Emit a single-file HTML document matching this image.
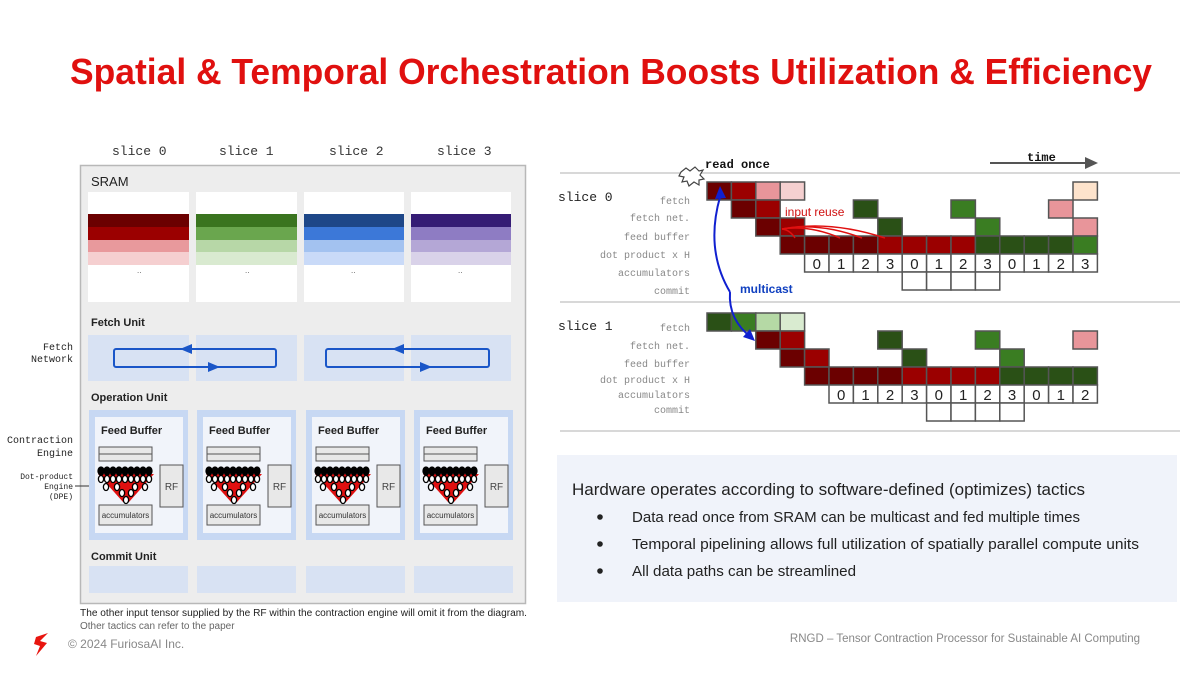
<!DOCTYPE html>
<html><head><meta charset="utf-8"><style>
html,body{margin:0;padding:0;background:#fff;}
svg{display:block;}
.m{font-family:"Liberation Mono",monospace;}
.s{font-family:"Liberation Sans",sans-serif;}
</style></head><body>
<svg width="1200" height="675" viewBox="0 0 1200 675" xmlns="http://www.w3.org/2000/svg">
<text x="70" y="84" class="s" font-size="36" font-weight="bold" fill="#e0100f" textLength="1082" lengthAdjust="spacingAndGlyphs">Spatial &amp; Temporal Orchestration Boosts Utilization &amp; Efficiency</text>

<!-- LEFT PANEL -->
<g class="m" font-size="13" fill="#333">
<text x="112" y="155">slice 0</text><text x="219" y="155">slice 1</text>
<text x="329" y="155">slice 2</text><text x="437" y="155">slice 3</text>
</g>
<rect x="80.5" y="165.5" width="445" height="438" fill="#ededed" stroke="#b8b8b8" stroke-width="1.5"/>
<text x="91" y="186" class="s" font-size="13" fill="#222">SRAM</text>
<g>
<rect x="88" y="192" width="101" height="110" fill="#fff"/>
<rect x="196" y="192" width="101" height="110" fill="#fff"/>
<rect x="304" y="192" width="100" height="110" fill="#fff"/>
<rect x="411" y="192" width="100" height="110" fill="#fff"/>
<rect x="88" y="214" width="101" height="13" fill="#6b0000"/><rect x="88" y="227" width="101" height="13" fill="#9b0000"/><rect x="88" y="240" width="101" height="12" fill="#e8999c"/><rect x="88" y="252" width="101" height="13" fill="#f5cfd0"/>
<rect x="196" y="214" width="101" height="13" fill="#3a741f"/><rect x="196" y="227" width="101" height="13" fill="#6aa64e"/><rect x="196" y="240" width="101" height="12" fill="#b7d7a7"/><rect x="196" y="252" width="101" height="13" fill="#d9ead0"/>
<rect x="304" y="214" width="100" height="13" fill="#1e4788"/><rect x="304" y="227" width="100" height="13" fill="#3c78d8"/><rect x="304" y="240" width="100" height="12" fill="#a3c2f0"/><rect x="304" y="252" width="100" height="13" fill="#c9daf8"/>
<rect x="411" y="214" width="100" height="13" fill="#351c75"/><rect x="411" y="227" width="100" height="13" fill="#8e7cc3"/><rect x="411" y="240" width="100" height="12" fill="#b4a7d6"/><rect x="411" y="252" width="100" height="13" fill="#d9d2e9"/>
<g class="s" font-size="8" fill="#555"><text x="137" y="273">..</text><text x="245" y="273">..</text><text x="351" y="273">..</text><text x="458" y="273">..</text></g>
</g>
<text x="91" y="326" class="s" font-size="11" font-weight="bold" fill="#222">Fetch Unit</text>
<rect x="88" y="335" width="101" height="46" fill="#d8e2f3"/><rect x="196" y="335" width="101" height="46" fill="#d8e2f3"/>
<rect x="304" y="335" width="100" height="46" fill="#d8e2f3"/><rect x="411" y="335" width="100" height="46" fill="#d8e2f3"/>
<g fill="none" stroke="#1a56c8" stroke-width="2">
<rect x="114" y="349" width="162" height="18" rx="2"/>
<rect x="326" y="349" width="163" height="18" rx="2"/>
</g>
<g fill="#1a56c8">
<polygon points="180,349 192,344 192,354"/><polygon points="220,367 208,362 208,372"/>
<polygon points="392,349 404,344 404,354"/><polygon points="432,367 420,362 420,372"/>
</g>
<g class="m" font-size="10" fill="#222" text-anchor="end">
<text x="73" y="350">Fetch</text><text x="73" y="362">Network</text>
<text x="73" y="443">Contraction</text><text x="73" y="456">Engine</text>
</g>
<g class="m" font-size="8" fill="#222" text-anchor="end">
<text x="73" y="479">Dot-product</text><text x="73" y="489">Engine</text><text x="73" y="499">(DPE)</text>
</g>
<line x1="75" y1="486" x2="102" y2="486" stroke="#333" stroke-width="1"/>
<text x="91" y="401" class="s" font-size="11" font-weight="bold" fill="#222">Operation Unit</text>

<defs>
<g id="op">
<rect x="0" y="0" width="99" height="130" fill="#c7d8f3"/>
<rect x="6" y="7" width="88" height="116" fill="#f1f4fa"/>
<text x="12" y="24" class="s" font-size="11" font-weight="bold" fill="#222">Feed Buffer</text>
<rect x="10" y="37" width="53" height="7" fill="#e8e8e8" stroke="#555"/>
<rect x="10" y="44" width="53" height="7" fill="#e8e8e8" stroke="#555"/>
<polygon points="9,64 65,64 40,92 34,92" fill="#e01010"/>
<g fill="#000" stroke="#000" stroke-width="1.3">
<ellipse cx="12" cy="61" rx="3" ry="4"/><ellipse cx="18" cy="61" rx="3" ry="4"/><ellipse cx="24" cy="61" rx="3" ry="4"/><ellipse cx="30" cy="61" rx="3" ry="4"/><ellipse cx="36" cy="61" rx="3" ry="4"/><ellipse cx="42" cy="61" rx="3" ry="4"/><ellipse cx="48" cy="61" rx="3" ry="4"/><ellipse cx="54" cy="61" rx="3" ry="4"/><ellipse cx="60" cy="61" rx="3" ry="4"/>
</g>
<g fill="#fff" stroke="#000" stroke-width="1.3">
<ellipse cx="12" cy="69" rx="2.6" ry="3.5"/><ellipse cx="18" cy="69" rx="2.6" ry="3.5"/><ellipse cx="24" cy="69" rx="2.6" ry="3.5"/><ellipse cx="30" cy="69" rx="2.6" ry="3.5"/><ellipse cx="36" cy="69" rx="2.6" ry="3.5"/><ellipse cx="42" cy="69" rx="2.6" ry="3.5"/><ellipse cx="48" cy="69" rx="2.6" ry="3.5"/><ellipse cx="54" cy="69" rx="2.6" ry="3.5"/><ellipse cx="60" cy="69" rx="2.6" ry="3.5"/>
<ellipse cx="17" cy="77" rx="2.6" ry="3.5"/><ellipse cx="28" cy="77" rx="2.6" ry="3.5"/><ellipse cx="46" cy="77" rx="2.6" ry="3.5"/><ellipse cx="56" cy="77" rx="2.6" ry="3.5"/>
<ellipse cx="33" cy="83" rx="2.6" ry="3.5"/><ellipse cx="42" cy="83" rx="2.6" ry="3.5"/>
<ellipse cx="37" cy="90" rx="2.6" ry="3.5"/>
</g>
<rect x="71" y="55" width="23" height="42" fill="#e8e8e8" stroke="#555"/>
<text x="82.5" y="80" class="s" font-size="10" fill="#444" text-anchor="middle">RF</text>
<rect x="10" y="95" width="53" height="20" fill="#e8e8e8" stroke="#555"/>
<text x="36.5" y="108" class="s" font-size="8" fill="#333" text-anchor="middle">accumulators</text>
</g>
</defs>
<use href="#op" x="89" y="410"/><use href="#op" x="197" y="410"/><use href="#op" x="306" y="410"/><use href="#op" x="414" y="410"/>

<text x="91" y="560" class="s" font-size="11" font-weight="bold" fill="#222">Commit Unit</text>
<rect x="89" y="566" width="99" height="27" fill="#d8e2f3"/><rect x="197" y="566" width="99" height="27" fill="#d8e2f3"/>
<rect x="306" y="566" width="99" height="27" fill="#d8e2f3"/><rect x="414" y="566" width="99" height="27" fill="#d8e2f3"/>
<text x="80" y="616" class="s" font-size="10" fill="#222" textLength="447" lengthAdjust="spacingAndGlyphs">The other input tensor supplied by the RF within the contraction engine will omit it from the diagram.</text>
<text x="80" y="629" class="s" font-size="10" fill="#666">Other tactics can refer to the paper</text>
<path d="M36,637 L48,633 L40,641 L47,643 L36,656 L40,646 L34,644 Z" fill="#e8150f"/>
<text x="68" y="648" class="s" font-size="12" fill="#888">© 2024 FuriosaAI Inc.</text>
<text x="1140" y="642" class="s" font-size="11.5" fill="#888" text-anchor="end">RNGD – Tensor Contraction Processor for Sustainable AI Computing</text>

<!-- RIGHT TIMELINE -->
<line x1="560" y1="173" x2="1180" y2="173" stroke="#ccc" stroke-width="1.5"/>
<line x1="560" y1="302" x2="1180" y2="302" stroke="#ccc" stroke-width="1.5"/>
<line x1="560" y1="431" x2="1180" y2="431" stroke="#ccc" stroke-width="1.5"/>
<text x="705" y="168" class="m" font-size="12" font-weight="bold" fill="#111">read once</text>
<text x="1027" y="161" class="m" font-size="12" font-weight="bold" fill="#111">time</text>
<line x1="990" y1="163" x2="1086" y2="163" stroke="#555" stroke-width="2"/>
<polygon points="1098,163 1085,157 1085,169" fill="#555"/>
<polygon points="681,172 686,168 690,171 695,167 699,171 703,170 700,175 704,179 699,180 699,185 694,182 689,186 687,181 682,182 684,177 679,176" fill="#fff" stroke="#444" stroke-width="1.2"/>
<g class="m" font-size="13" fill="#222"><text x="558" y="201">slice 0</text><text x="558" y="330">slice 1</text></g>
<g class="m" font-size="10" fill="#888" text-anchor="end">
<text x="690" y="204">fetch</text><text x="690" y="221">fetch net.</text><text x="690" y="240">feed buffer</text><text x="690" y="258">dot product x H</text><text x="690" y="276">accumulators</text><text x="690" y="294">commit</text>
<text x="690" y="331">fetch</text><text x="690" y="349">fetch net.</text><text x="690" y="367">feed buffer</text><text x="690" y="383">dot product x H</text><text x="690" y="398">accumulators</text><text x="690" y="413">commit</text>
</g>
<g stroke="#555" stroke-width="1.5">
<rect x="707" y="182" width="24.4" height="18" fill="#6b0000"/><rect x="731.4" y="182" width="24.4" height="18" fill="#9b0000"/><rect x="755.8" y="182" width="24.4" height="18" fill="#e8959a"/><rect x="780.2" y="182" width="24.4" height="18" fill="#f5d0d0"/><rect x="1073" y="182" width="24.4" height="18" fill="#fde3cc"/>
<rect x="731.4" y="200" width="24.4" height="18" fill="#6b0000"/><rect x="755.8" y="200" width="24.4" height="18" fill="#9b0000"/><rect x="853.4" y="200" width="24.4" height="18" fill="#2a5016"/><rect x="951" y="200" width="24.4" height="18" fill="#3a7d22"/><rect x="1048.6" y="200" width="24.4" height="18" fill="#e8959a"/>
<rect x="755.8" y="218" width="24.4" height="18" fill="#6b0000"/><rect x="780.2" y="218" width="24.4" height="18" fill="#9b0000"/><rect x="877.8" y="218" width="24.4" height="18" fill="#2a5016"/><rect x="975.4" y="218" width="24.4" height="18" fill="#3a7d22"/><rect x="1073" y="218" width="24.4" height="18" fill="#e8959a"/>
<rect x="780.2" y="236" width="24.4" height="18" fill="#6b0000"/><rect x="804.6" y="236" width="24.4" height="18" fill="#6b0000"/><rect x="829" y="236" width="24.4" height="18" fill="#6b0000"/><rect x="853.4" y="236" width="24.4" height="18" fill="#6b0000"/>
<rect x="877.8" y="236" width="24.4" height="18" fill="#9b0000"/><rect x="902.2" y="236" width="24.4" height="18" fill="#9b0000"/><rect x="926.6" y="236" width="24.4" height="18" fill="#9b0000"/><rect x="951" y="236" width="24.4" height="18" fill="#9b0000"/>
<rect x="975.4" y="236" width="24.4" height="18" fill="#2a5016"/><rect x="999.8" y="236" width="24.4" height="18" fill="#2a5016"/><rect x="1024.2" y="236" width="24.4" height="18" fill="#2a5016"/><rect x="1048.6" y="236" width="24.4" height="18" fill="#2a5016"/><rect x="1073" y="236" width="24.4" height="18" fill="#3a7d22"/>
<g fill="#fff">
<rect x="804.6" y="254" width="24.4" height="18"/><rect x="829" y="254" width="24.4" height="18"/><rect x="853.4" y="254" width="24.4" height="18"/><rect x="877.8" y="254" width="24.4" height="18"/><rect x="902.2" y="254" width="24.4" height="18"/><rect x="926.6" y="254" width="24.4" height="18"/><rect x="951" y="254" width="24.4" height="18"/><rect x="975.4" y="254" width="24.4" height="18"/><rect x="999.8" y="254" width="24.4" height="18"/><rect x="1024.2" y="254" width="24.4" height="18"/><rect x="1048.6" y="254" width="24.4" height="18"/><rect x="1073" y="254" width="24.4" height="18"/>
<rect x="902.2" y="272" width="24.4" height="18"/><rect x="926.6" y="272" width="24.4" height="18"/><rect x="951" y="272" width="24.4" height="18"/><rect x="975.4" y="272" width="24.4" height="18"/>
</g>
<rect x="707" y="313" width="24.4" height="18" fill="#2a5016"/><rect x="731.4" y="313" width="24.4" height="18" fill="#3a7d22"/><rect x="755.8" y="313" width="24.4" height="18" fill="#b5d9a5"/><rect x="780.2" y="313" width="24.4" height="18" fill="#d9ebd0"/>
<rect x="755.8" y="331" width="24.4" height="18" fill="#6b0000"/><rect x="780.2" y="331" width="24.4" height="18" fill="#9b0000"/><rect x="877.8" y="331" width="24.4" height="18" fill="#2a5016"/><rect x="975.4" y="331" width="24.4" height="18" fill="#3a7d22"/><rect x="1073" y="331" width="24.4" height="18" fill="#e8959a"/>
<rect x="780.2" y="349" width="24.4" height="18" fill="#6b0000"/><rect x="804.6" y="349" width="24.4" height="18" fill="#9b0000"/><rect x="902.2" y="349" width="24.4" height="18" fill="#2a5016"/><rect x="999.8" y="349" width="24.4" height="18" fill="#3a7d22"/>
<rect x="804.6" y="367" width="24.4" height="18" fill="#6b0000"/><rect x="829" y="367" width="24.4" height="18" fill="#6b0000"/><rect x="853.4" y="367" width="24.4" height="18" fill="#6b0000"/><rect x="877.8" y="367" width="24.4" height="18" fill="#6b0000"/>
<rect x="902.2" y="367" width="24.4" height="18" fill="#9b0000"/><rect x="926.6" y="367" width="24.4" height="18" fill="#9b0000"/><rect x="951" y="367" width="24.4" height="18" fill="#9b0000"/><rect x="975.4" y="367" width="24.4" height="18" fill="#9b0000"/>
<rect x="999.8" y="367" width="24.4" height="18" fill="#2a5016"/><rect x="1024.2" y="367" width="24.4" height="18" fill="#2a5016"/><rect x="1048.6" y="367" width="24.4" height="18" fill="#2a5016"/><rect x="1073" y="367" width="24.4" height="18" fill="#2a5016"/>
<g fill="#fff">
<rect x="829" y="385" width="24.4" height="18"/><rect x="853.4" y="385" width="24.4" height="18"/><rect x="877.8" y="385" width="24.4" height="18"/><rect x="902.2" y="385" width="24.4" height="18"/><rect x="926.6" y="385" width="24.4" height="18"/><rect x="951" y="385" width="24.4" height="18"/><rect x="975.4" y="385" width="24.4" height="18"/><rect x="999.8" y="385" width="24.4" height="18"/><rect x="1024.2" y="385" width="24.4" height="18"/><rect x="1048.6" y="385" width="24.4" height="18"/><rect x="1073" y="385" width="24.4" height="18"/>
<rect x="926.6" y="403" width="24.4" height="18"/><rect x="951" y="403" width="24.4" height="18"/><rect x="975.4" y="403" width="24.4" height="18"/><rect x="999.8" y="403" width="24.4" height="18"/>
</g>
</g>
<g class="s" font-size="15" fill="#222" text-anchor="middle">
<text x="816.8" y="269">0</text><text x="841.2" y="269">1</text><text x="865.6" y="269">2</text><text x="890" y="269">3</text><text x="914.4" y="269">0</text><text x="938.8" y="269">1</text><text x="963.2" y="269">2</text><text x="987.6" y="269">3</text><text x="1012" y="269">0</text><text x="1036.4" y="269">1</text><text x="1060.8" y="269">2</text><text x="1085.2" y="269">3</text>
<text x="841.2" y="400">0</text><text x="865.6" y="400">1</text><text x="890" y="400">2</text><text x="914.4" y="400">3</text><text x="938.8" y="400">0</text><text x="963.2" y="400">1</text><text x="987.6" y="400">2</text><text x="1012" y="400">3</text><text x="1036.4" y="400">0</text><text x="1060.8" y="400">1</text><text x="1085.2" y="400">2</text>
</g>
<g fill="none" stroke="#e01010" stroke-width="1.5">
<path d="M782,229 Q810,225 840,238"/><path d="M782,229 Q820,222 862,238"/><path d="M782,229 Q830,220 885,238"/><path d="M782,229 Q790,230 795,238"/>
</g>
<text x="785" y="216" class="s" font-size="12" fill="#d01010">input reuse</text>
<path d="M730,292 Q705,250 720,197" fill="none" stroke="#1020d0" stroke-width="2"/>
<polygon points="720,186 715,199 726,198" fill="#1020d0"/>
<path d="M730,292 Q728,320 752,338" fill="none" stroke="#1020d0" stroke-width="2"/>
<polygon points="755,341 743,337 750,329" fill="#1020d0"/>
<text x="740" y="293" class="s" font-size="12" font-weight="bold" fill="#1040c0">multicast</text>

<rect x="557" y="455" width="620" height="147" fill="#f0f3fa"/>
<text x="572" y="495" class="s" font-size="16.5" fill="#222" textLength="513" lengthAdjust="spacingAndGlyphs">Hardware operates according to software-defined (optimizes) tactics</text>
<g class="s" font-size="14.5" fill="#222">
<circle cx="600" cy="517" r="2.8"/><text x="632" y="522" textLength="448" lengthAdjust="spacingAndGlyphs">Data read once from SRAM can be multicast and fed multiple times</text>
<circle cx="600" cy="544" r="2.8"/><text x="632" y="549" textLength="507" lengthAdjust="spacingAndGlyphs">Temporal pipelining allows full utilization of spatially parallel compute units</text>
<circle cx="600" cy="571" r="2.8"/><text x="632" y="576" textLength="224" lengthAdjust="spacingAndGlyphs">All data paths can be streamlined</text>
</g>
</svg>
</body></html>
